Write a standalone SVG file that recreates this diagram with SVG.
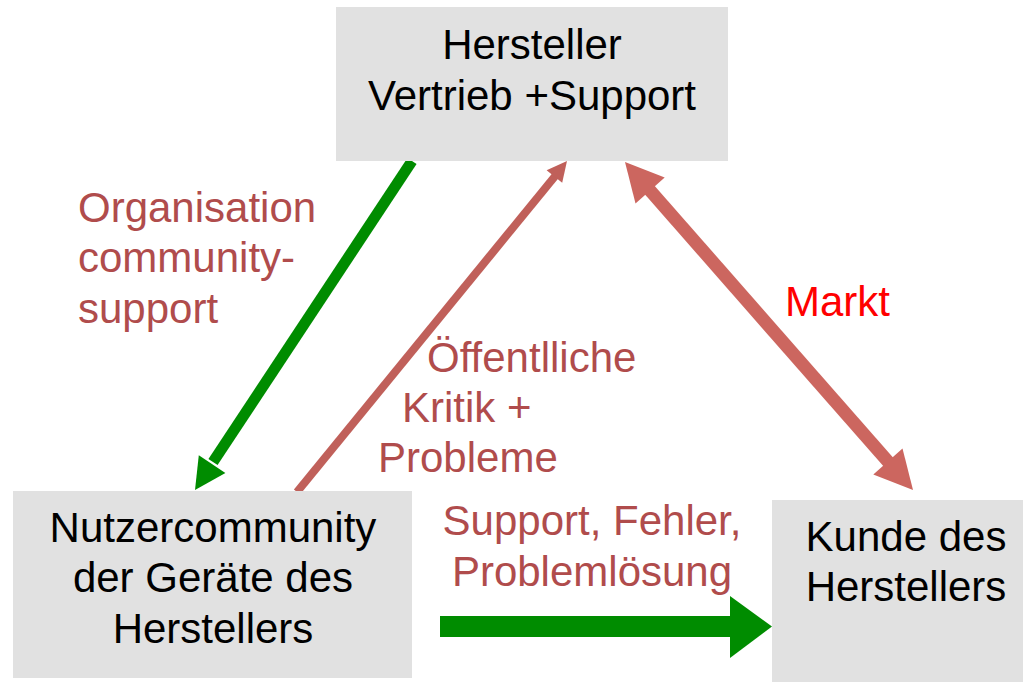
<svg xmlns="http://www.w3.org/2000/svg" width="1023" height="682" viewBox="0 0 1023 682">
  <style>
    .box { fill: #e1e1e1; }
    .node-text { font-family: "Liberation Sans", Arial, sans-serif; font-size: 42px; fill: #000000; text-anchor: middle; }
    .label { font-family: "Liberation Sans", Arial, sans-serif; font-size: 42px; fill: #b04c4c; }
    .market { font-family: "Liberation Sans", Arial, sans-serif; font-size: 42px; fill: #ff0000; }
    .green-line { stroke: #008c00; fill: none; stroke-linecap: butt; }
    .green-fill { fill: #008c00; }
    .red-line { stroke: #c0605a; fill: none; stroke-linecap: butt; }
    .red-fill { fill: #c0605a; }
    .market-line { stroke: #cc665f; fill: none; stroke-linecap: butt; }
    .market-fill { fill: #cc665f; }
  </style>

  <rect width="1023" height="682" fill="#ffffff"/>

  <!-- connectors -->
  <g id="connectors">
    <!-- organisation of community support: manufacturer to user community -->
    <g id="edge-organisation">
      <line class="green-line" x1="412" y1="161" x2="213" y2="462" stroke-width="11"/>
      <polygon class="green-fill" points="195,490 225.4,472.9 198.8,455.3"/>
    </g>
    <!-- public criticism: user community to manufacturer -->
    <g id="edge-kritik">
      <line class="red-line" x1="297" y1="492" x2="556" y2="175" stroke-width="8"/>
      <polygon class="red-fill" points="567,161 562.2,182.8 546.6,170.2"/>
    </g>
    <!-- market: manufacturer and customer both ways -->
    <g id="edge-markt">
      <line class="market-line" x1="647" y1="187" x2="891" y2="465" stroke-width="13"/>
      <polygon class="market-fill" points="625,162 664.7,177.6 635.5,203.4"/>
      <polygon class="market-fill" points="913,490 902.5,448.6 873.3,474.4"/>
    </g>
    <!-- support: user community to customer -->
    <g id="edge-support">
      <rect class="green-fill" x="440" y="616" width="292" height="21"/>
      <polygon class="green-fill" points="730,596 772,626.5 730,658"/>
    </g>
  </g>

  <!-- nodes -->
  <g id="node-hersteller">
    <rect class="box" x="336" y="7" width="392" height="154"/>
    <text class="node-text" x="532" y="59">Hersteller</text>
    <text class="node-text" x="532" y="110">Vertrieb +Support</text>
  </g>

  <g id="node-nutzercommunity">
    <rect class="box" x="13" y="491" width="399" height="187"/>
    <text class="node-text" x="213" y="542">Nutzercommunity</text>
    <text class="node-text" x="213" y="592">der Geräte des</text>
    <text class="node-text" x="213" y="643">Herstellers</text>
  </g>

  <g id="node-kunde">
    <rect class="box" x="772" y="500" width="260" height="182"/>
    <text class="node-text" x="906" y="551">Kunde des</text>
    <text class="node-text" x="906" y="601">Herstellers</text>
  </g>

  <!-- connector labels -->
  <g id="labels">
    <text class="label" x="78" y="222">Organisation</text>
    <text class="label" x="78" y="272">community-</text>
    <text class="label" x="78" y="323">support</text>

    <text class="label" x="427" y="372">Öffentlliche</text>
    <text class="label" x="402" y="422">Kritik +</text>
    <text class="label" x="378" y="472">Probleme</text>

    <text class="label" x="592" y="535" text-anchor="middle">Support, Fehler,</text>
    <text class="label" x="592" y="586" text-anchor="middle">Problemlösung</text>

    <text class="market" x="785" y="316">Markt</text>
  </g>
</svg>
